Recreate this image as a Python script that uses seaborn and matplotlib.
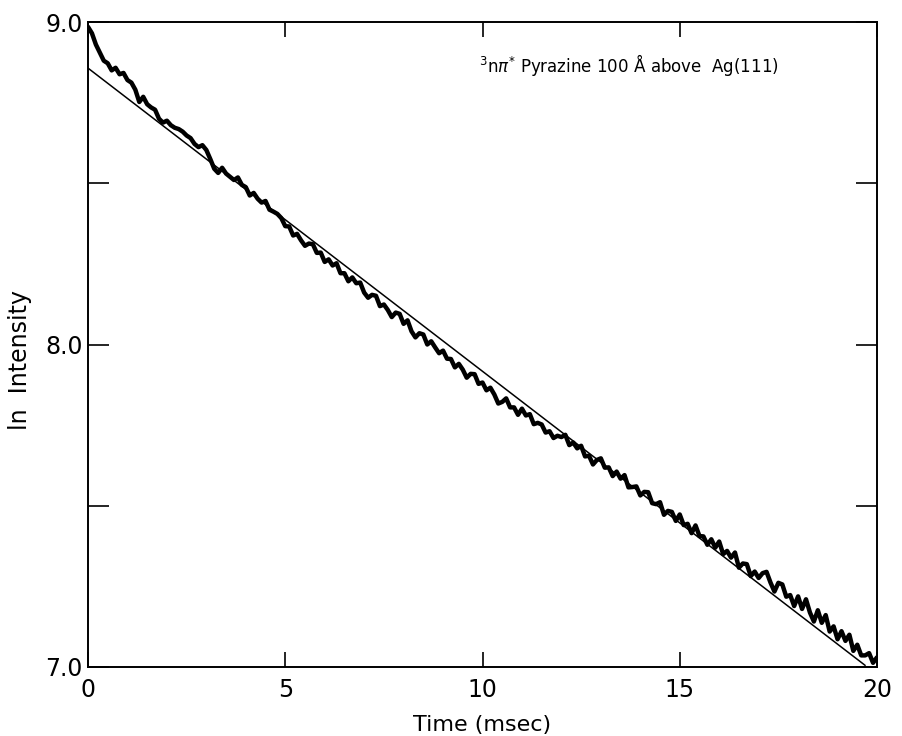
import numpy as np
import pandas as pd
import matplotlib
matplotlib.use("Agg")
import matplotlib.pyplot as plt
import seaborn as sns

# ---- data ----
time_ms = [round(0.1 * i, 1) for i in range(201)]
ln_intensity = [
    8.985, 8.965, 8.930, 8.905, 8.880, 8.872, 8.850, 8.858, 8.838, 8.842,
    8.820, 8.812, 8.790, 8.752, 8.768, 8.745, 8.735, 8.728, 8.700, 8.688,
    8.694, 8.680, 8.672, 8.668, 8.660, 8.648, 8.640, 8.622, 8.612, 8.618,
    8.603, 8.575, 8.545, 8.532, 8.548, 8.530, 8.520, 8.510, 8.518, 8.495,
    8.488, 8.462, 8.470, 8.452, 8.440, 8.445, 8.418, 8.412, 8.405, 8.392,
    8.367, 8.366, 8.338, 8.343, 8.323, 8.306, 8.313, 8.311, 8.284, 8.285,
    8.256, 8.264, 8.245, 8.252, 8.221, 8.221, 8.196, 8.208, 8.190, 8.192,
    8.161, 8.145, 8.154, 8.151, 8.119, 8.124, 8.107, 8.085, 8.099, 8.095,
    8.064, 8.075, 8.041, 8.022, 8.035, 8.031, 8.000, 8.010, 7.991, 7.973,
    7.981, 7.956, 7.955, 7.929, 7.940, 7.922, 7.897, 7.909, 7.908, 7.878,
    7.882, 7.858, 7.866, 7.845, 7.817, 7.822, 7.833, 7.805, 7.805, 7.782,
    7.801, 7.780, 7.784, 7.753, 7.757, 7.752, 7.727, 7.731, 7.710, 7.717,
    7.713, 7.720, 7.688, 7.696, 7.678, 7.686, 7.653, 7.655, 7.628, 7.642,
    7.647, 7.618, 7.619, 7.592, 7.606, 7.584, 7.595, 7.557, 7.558, 7.560,
    7.532, 7.543, 7.542, 7.508, 7.505, 7.511, 7.472, 7.484, 7.481, 7.453,
    7.473, 7.440, 7.444, 7.415, 7.439, 7.406, 7.405, 7.379, 7.396, 7.370,
    7.389, 7.350, 7.360, 7.339, 7.355, 7.308, 7.321, 7.319, 7.282, 7.296,
    7.276, 7.291, 7.295, 7.262, 7.234, 7.261, 7.256, 7.218, 7.223, 7.189,
    7.219, 7.180, 7.210, 7.169, 7.141, 7.176, 7.137, 7.161, 7.110, 7.126,
    7.086, 7.111, 7.081, 7.100, 7.050, 7.069, 7.036, 7.036, 7.043, 7.013,
    7.030,
]
fit_time = [0.0, 19.7]
fit_values = [8.857, 7.005]

x_ticks = [0, 5, 10, 15, 20]
x_labels = ["0", "5", "10", "15", "20"]
y_ticks = [7.0, 7.5, 8.0, 8.5, 9.0]
y_labels = ["7.0", "", "8.0", "", "9.0"]

sns.set_style("white")
plt.rcParams["font.family"] = ["DejaVu Sans"]
plt.rcParams["text.color"] = "black"
plt.rcParams["axes.labelcolor"] = "black"
plt.rcParams["xtick.color"] = "black"
plt.rcParams["ytick.color"] = "black"

fig = plt.figure(figsize=(9.02, 7.36), dpi=100)
ax = fig.add_axes([88 / 902, 1 - 667 / 736, (877 - 88) / 902, (667 - 22) / 736])

df = pd.DataFrame({"t": time_ms, "v": ln_intensity})
fit_df = pd.DataFrame({"t": fit_time, "v": fit_values})
sns.lineplot(data=fit_df, x="t", y="v", ax=ax, color="black", linewidth=1.1)
sns.lineplot(data=df, x="t", y="v", ax=ax, color="black", linewidth=3.2)

ax.set_xlim(0, 20)
ax.set_ylim(7.0, 9.0)
ax.set_xticks(x_ticks)
ax.set_xticklabels(x_labels)
ax.set_yticks(y_ticks)
ax.set_yticklabels(y_labels)
ax.tick_params(axis="x", direction="in", length=11, width=1.2, top=True,
               bottom=True, labelsize=17, pad=8)
ax.tick_params(axis="y", direction="in", length=15, width=1.2, left=True,
               right=True, labelsize=17, pad=4)
for s in ax.spines.values():
    s.set_linewidth(1.4)
    s.set_color("black")

ax.set_xlabel("Time (msec)", fontsize=16, labelpad=9)
ax.set_ylabel("ln  Intensity", fontsize=17)
ax.yaxis.set_label_coords(-0.071, 0.476)

ax.text(13.7, 8.867, r"$^{3}$n$\pi^{*}$ Pyrazine 100 Å above  Ag(111)",
        fontsize=12, ha="center", va="center")

fig.savefig("out.png", dpi=100)
